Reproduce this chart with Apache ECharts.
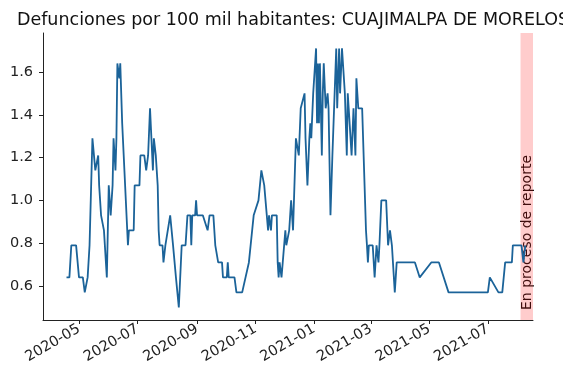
<!DOCTYPE html>
<html>
<head>
<meta charset="utf-8">
<script src="https://cdn.jsdelivr.net/npm/echarts@6/dist/echarts.min.js"></script>
<style>
html,body{margin:0;padding:0;background:#fff;}
#chart{width:563px;height:379px;}
</style>
</head>
<body>
<div id="chart"></div>
<script>
const titleText = 'Defunciones por 100 mil habitantes: CUAJIMALPA DE MORELOS';
const bandLabel = 'En proceso de reporte';

const dates = [
'2020-04-18','2020-04-21','2020-04-23','2020-04-28','2020-05-01','2020-05-05','2020-05-07','2020-05-10','2020-05-12','2020-05-13',
'2020-05-15','2020-05-18','2020-05-19','2020-05-21','2020-05-22','2020-05-24','2020-05-26','2020-05-27','2020-05-28','2020-05-30',
'2020-06-01','2020-06-03','2020-06-05','2020-06-06','2020-06-08','2020-06-09','2020-06-10','2020-06-11','2020-06-12','2020-06-13',
'2020-06-15','2020-06-21','2020-06-22','2020-06-27','2020-06-28','2020-07-03','2020-07-04','2020-07-08','2020-07-10','2020-07-12',
'2020-07-14','2020-07-17','2020-07-18','2020-07-20','2020-07-22','2020-07-23','2020-07-24','2020-07-27','2020-07-28','2020-07-30',
'2020-08-04','2020-08-07','2020-08-09','2020-08-10','2020-08-11','2020-08-13','2020-08-16','2020-08-20','2020-08-22','2020-08-25',
'2020-08-26','2020-08-27','2020-08-30','2020-08-31','2020-09-01','2020-09-07','2020-09-12','2020-09-14','2020-09-18','2020-09-20',
'2020-09-21','2020-09-23','2020-09-27','2020-09-28','2020-10-02','2020-10-03','2020-10-04','2020-10-10','2020-10-12','2020-10-18',
'2020-10-25','2020-10-30','2020-11-04','2020-11-07','2020-11-10','2020-11-12','2020-11-14','2020-11-15','2020-11-17','2020-11-18',
'2020-11-23','2020-11-24','2020-11-25','2020-11-26','2020-11-28','2020-12-02','2020-12-03','2020-12-06','2020-12-08','2020-12-10',
'2020-12-11','2020-12-13','2020-12-15','2020-12-16','2020-12-18','2020-12-20','2020-12-22','2020-12-23','2020-12-25','2020-12-27',
'2020-12-28','2020-12-29','2020-12-31','2021-01-03','2021-01-04','2021-01-05','2021-01-06','2021-01-07','2021-01-09','2021-01-10',
'2021-01-11','2021-01-13','2021-01-15','2021-01-16','2021-01-18','2021-01-20','2021-01-21','2021-01-24','2021-01-25','2021-01-27',
'2021-01-28','2021-01-30','2021-02-01','2021-02-02','2021-02-04','2021-02-05','2021-02-06','2021-02-09','2021-02-10','2021-02-11',
'2021-02-13','2021-02-14','2021-02-16','2021-02-20','2021-02-24','2021-02-25','2021-02-26','2021-02-27','2021-03-03','2021-03-05',
'2021-03-07','2021-03-09','2021-03-10','2021-03-12','2021-03-17','2021-03-19','2021-03-21','2021-03-23','2021-03-24','2021-03-26',
'2021-03-28','2021-04-16','2021-04-21','2021-05-03','2021-05-11','2021-05-21','2021-07-01','2021-07-03','2021-07-12','2021-07-16',
'2021-07-19','2021-07-26','2021-07-27','2021-08-05','2021-08-07','2021-08-09'
];

const values = [
0.64,0.64,0.79,0.79,0.64,0.64,0.57,0.64,0.79,0.79,
1.29,1.14,1.14,1.21,1.07,0.93,0.93,0.86,0.86,0.64,
1.07,0.93,1.07,1.29,1.14,1.29,1.64,1.64,1.57,1.64,
1.36,0.79,0.86,0.86,1.07,1.07,1.21,1.21,1.14,1.21,
1.43,1.14,1.29,1.21,1.07,0.86,0.79,0.79,0.71,0.79,
0.93,0.79,0.79,0.64,0.64,0.50,0.79,0.79,0.93,0.93,
0.79,0.93,0.93,1.00,0.93,0.93,0.86,0.93,0.93,0.79,
0.79,0.71,0.71,0.64,0.64,0.71,0.64,0.64,0.57,0.57,
0.71,0.93,1.00,1.14,1.07,1.07,0.86,0.93,0.86,0.93,
0.93,0.71,0.64,0.71,0.64,0.86,0.79,0.86,1.00,0.86,
0.86,1.29,1.29,1.21,1.43,1.43,1.50,1.29,1.07,1.29,
1.36,1.29,1.50,1.71,1.36,1.64,1.36,1.64,1.21,1.50,
1.64,1.43,1.50,1.43,0.93,1.21,1.21,1.71,1.43,1.71,
1.50,1.71,1.71,1.50,1.21,1.50,1.43,1.21,1.21,1.43,
1.21,1.57,1.43,1.43,0.86,0.79,0.71,0.79,0.79,0.64,
0.79,0.71,0.79,1.00,1.00,0.79,0.86,0.79,0.79,0.57,
0.71,0.71,0.64,0.71,0.71,0.57,0.57,0.64,0.57,0.57,
0.71,0.71,0.79,0.79,0.71,0.79
];

const xTickDates = ['2020-05-01','2020-07-01','2020-09-01','2020-11-01','2021-01-01','2021-03-01','2021-05-01','2021-07-01'];
const yTicks = [0.6, 0.8, 1.0, 1.2, 1.4, 1.6];
const xRange = ['2020-03-24T12:00:00', '2021-08-17T00:00:00'];
const yRange = [0.441, 1.782];
const bandRange = ['2021-08-04', '2021-08-17'];

function ts(s){ return echarts.time.parse(s).getTime(); }
function ym(v){ const d = new Date(v); return d.getFullYear() + '-' + String(d.getMonth()+1).padStart(2,'0'); }

const chart = echarts.init(document.getElementById('chart'), null, {renderer:'canvas'});
const font = 'DejaVu Sans';
const axisColor = '#222';
const xTicks = xTickDates.map(ts);

chart.setOption({
  animation: false,
  backgroundColor: '#fff',
  title: {
    text: titleText,
    left: 288,
    top: 6,
    textAlign: 'center',
    textStyle: {fontFamily: font, fontSize: 17.5, fontWeight: 'normal', color: '#111'}
  },
  grid: {left: 43, right: 30, top: 33, bottom: 59, containLabel: false},
  xAxis: {
    type: 'value',
    min: ts(xRange[0]),
    max: ts(xRange[1]),
    splitLine: {show: false},
    axisLine: {show: true, onZero: false, lineStyle: {color: axisColor, width: 1}},
    axisTick: {show: true, length: 4, inside: false, lineStyle: {color: axisColor}, customValues: xTicks},
    axisLabel: {
      customValues: xTicks,
      rotate: 30,
      margin: 8,
      fontFamily: font, fontSize: 14.5, color: '#222',
      formatter: ym
    }
  },
  yAxis: {
    type: 'value',
    min: yRange[0],
    max: yRange[1],
    splitLine: {show: false},
    axisLine: {show: true, onZero: false, lineStyle: {color: axisColor, width: 1}},
    axisTick: {show: true, length: 4, lineStyle: {color: axisColor}, customValues: yTicks},
    axisLabel: {
      customValues: yTicks,
      margin: 10,
      fontFamily: font, fontSize: 14.5, color: '#222',
      formatter: function(v){ return Number(v).toFixed(1); }
    }
  },
  series: [{
    type: 'line',
    data: dates.map((d, i) => [ts(d), values[i]]),
    showSymbol: false,
    symbol: 'none',
    lineStyle: {color: '#1b6399', width: 1.8},
    itemStyle: {color: '#1b6399'},
    markArea: {
      silent: true,
      itemStyle: {color: 'rgba(255,0,0,0.2)'},
      data: [[{xAxis: ts(bandRange[0])}, {xAxis: ts(bandRange[1])}]]
    }
  }]
});

const midBand = (ts(bandRange[0]) + ts(bandRange[1])) / 2;
const px = chart.convertToPixel({xAxisIndex: 0}, midBand);
const py = chart.convertToPixel({yAxisIndex: 0}, yRange[0]);
chart.setOption({
  graphic: [{
    type: 'text',
    x: px + 1,
    y: py - 10,
    rotation: Math.PI / 2,
    style: {text: bandLabel, fontFamily: font, fontSize: 14, fill: '#111', align: 'left', verticalAlign: 'middle'}
  }]
});
</script>
</body>
</html>
